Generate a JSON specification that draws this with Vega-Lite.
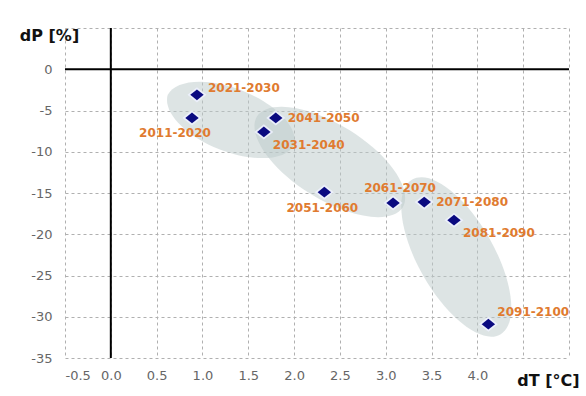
{
  "$schema": "https://vega.github.io/schema/vega-lite/v6.json",
  "autosize": {"type": "none"},
  "padding": {"left": 65, "top": 28, "right": 17, "bottom": 38},
  "width": 504,
  "height": 330,
  "background": "white",
  "config": {
    "view": {"stroke": null},
    "axis": {
      "domain": false,
      "ticks": false,
      "grid": true,
      "gridColor": "#b0b0b0",
      "gridDash": [3, 3],
      "gridWidth": 1,
      "labelFont": "DejaVu Sans",
      "labelFontSize": 13,
      "labelColor": "#666666",
      "titleFont": "DejaVu Sans",
      "titleFontSize": 16,
      "titleFontWeight": "bold",
      "titleColor": "#111111"
    }
  },
  "datasets": {
    "pts": [
      {"period": "2011-2020", "dT": 0.886, "dP": -5.9},
      {"period": "2021-2030", "dT": 0.94, "dP": -3.1},
      {"period": "2031-2040", "dT": 1.67, "dP": -7.6},
      {"period": "2041-2050", "dT": 1.8, "dP": -5.9},
      {"period": "2051-2060", "dT": 2.33, "dP": -14.9},
      {"period": "2061-2070", "dT": 3.08, "dP": -16.2},
      {"period": "2071-2080", "dT": 3.42, "dP": -16.1},
      {"period": "2081-2090", "dT": 3.745, "dP": -18.3},
      {"period": "2091-2100", "dT": 4.12, "dP": -30.9}
    ],
    "ell": [
      {"cluster": "A", "dT": 1.31, "dP": -6.15},
      {"cluster": "B", "dT": 2.39, "dP": -11.24},
      {"cluster": "C", "dT": 3.77, "dP": -22.76}
    ]
  },
  "layer": [
    {
      "data": {"name": "ell"},
      "mark": {"type": "point", "filled": true, "size": 4, "opacity": 0.5, "color": "#bccaca", "strokeWidth": 0},
      "encoding": {
        "x": {
          "field": "dT", "type": "quantitative",
          "scale": {"domain": [-0.5, 5], "nice": false, "zero": false},
          "axis": {
            "values": [-0.5, 0, 0.5, 1, 1.5, 2, 2.5, 3, 3.5, 4, 4.5, 5],
            "format": ".1f",
            "labelExpr": "datum.value > 4.2 ? '' : replace(datum.label, '\u2212', '-')",
            "labelPadding": 11,
            "title": "dT [°C]",
            "titleX": 483,
            "titleY": 27,
            "titleAlign": "center",
            "titleBaseline": "alphabetic"
          }
        },
        "y": {
          "field": "dP", "type": "quantitative",
          "scale": {"domain": [-35, 5], "nice": false, "zero": false},
          "axis": {
            "values": [-35, -30, -25, -20, -15, -10, -5, 0, 5],
            "labelExpr": "datum.value > 0 ? '' : replace(datum.label, '\u2212', '-')",
            "labelPadding": 13,
            "title": "dP [%]",
            "titleAngle": 0,
            "titleX": -16,
            "titleY": 12,
            "titleAlign": "center",
            "titleBaseline": "alphabetic"
          }
        },
        "shape": {
          "field": "cluster", "type": "nominal",
          "scale": {
            "domain": ["A", "B", "C"],
            "range": [
              "M63.2,24.9 A68,33,21.5,0,1,-63.2,-24.9 A68,33,21.5,0,1,63.2,24.9 Z",
              "M72.9,45.6 A86,38,32,0,1,-72.9,-45.6 A86,38,32,0,1,72.9,45.6 Z",
              "M44,77.4 A89,38,60.4,0,1,-44,-77.4 A89,38,60.4,0,1,44,77.4 Z"
            ]
          },
          "legend": null
        }
      }
    },
    {
      "data": {"values": [{}]},
      "mark": {"type": "rule", "color": "#000000", "strokeWidth": 2},
      "encoding": {"x": {"datum": 0, "type": "quantitative"}}
    },
    {
      "data": {"values": [{}]},
      "mark": {"type": "rule", "color": "#000000", "strokeWidth": 2},
      "encoding": {"y": {"datum": 0, "type": "quantitative"}}
    },
    {
      "data": {"name": "pts"},
      "mark": {"type": "point", "filled": true, "shape": "M-1,0L0,-0.8L1,0L0,0.8Z", "size": 360, "color": "#eef2ff", "opacity": 0.85, "strokeWidth": 0},
      "encoding": {
        "x": {"field": "dT", "type": "quantitative"},
        "y": {"field": "dP", "type": "quantitative"}
      }
    },
    {
      "data": {"name": "pts"},
      "mark": {"type": "point", "filled": true, "shape": "M-1,0L0,-0.8L1,0L0,0.8Z", "size": 180, "color": "#0a0a80", "opacity": 1, "strokeWidth": 0},
      "encoding": {
        "x": {"field": "dT", "type": "quantitative"},
        "y": {"field": "dP", "type": "quantitative"}
      }
    },
    {
      "data": {"name": "pts"},
      "transform": [{"filter": {"field": "period", "oneOf": ["2041-2050", "2071-2080"]}}],
      "mark": {"type": "text", "align": "left", "baseline": "middle", "dx": 12, "dy": 0, "font": "DejaVu Sans", "fontSize": 12, "fontWeight": "bold", "color": "#e07b30"},
      "encoding": {
        "x": {"field": "dT", "type": "quantitative"},
        "y": {"field": "dP", "type": "quantitative"},
        "text": {"field": "period"}
      }
    },
    {
      "data": {"name": "pts"},
      "transform": [{"filter": {"field": "period", "oneOf": ["2031-2040", "2081-2090"]}}],
      "mark": {"type": "text", "align": "left", "baseline": "middle", "dx": 9, "dy": 13, "font": "DejaVu Sans", "fontSize": 12, "fontWeight": "bold", "color": "#e07b30"},
      "encoding": {
        "x": {"field": "dT", "type": "quantitative"},
        "y": {"field": "dP", "type": "quantitative"},
        "text": {"field": "period"}
      }
    },
    {
      "data": {"name": "pts"},
      "transform": [{"filter": {"field": "period", "oneOf": ["2021-2030"]}}],
      "mark": {"type": "text", "align": "left", "baseline": "middle", "dx": 11, "dy": -7, "font": "DejaVu Sans", "fontSize": 12, "fontWeight": "bold", "color": "#e07b30"},
      "encoding": {
        "x": {"field": "dT", "type": "quantitative"},
        "y": {"field": "dP", "type": "quantitative"},
        "text": {"field": "period"}
      }
    },
    {
      "data": {"name": "pts"},
      "transform": [{"filter": {"field": "period", "oneOf": ["2091-2100"]}}],
      "mark": {"type": "text", "align": "left", "baseline": "middle", "dx": 9, "dy": -12, "font": "DejaVu Sans", "fontSize": 12, "fontWeight": "bold", "color": "#e07b30"},
      "encoding": {
        "x": {"field": "dT", "type": "quantitative"},
        "y": {"field": "dP", "type": "quantitative"},
        "text": {"field": "period"}
      }
    },
    {
      "data": {"name": "pts"},
      "transform": [{"filter": {"field": "period", "oneOf": ["2051-2060"]}}],
      "mark": {"type": "text", "align": "center", "baseline": "middle", "dx": -2, "dy": 16, "font": "DejaVu Sans", "fontSize": 12, "fontWeight": "bold", "color": "#e07b30"},
      "encoding": {
        "x": {"field": "dT", "type": "quantitative"},
        "y": {"field": "dP", "type": "quantitative"},
        "text": {"field": "period"}
      }
    },
    {
      "data": {"name": "pts"},
      "transform": [{"filter": {"field": "period", "oneOf": ["2011-2020"]}}],
      "mark": {"type": "text", "align": "center", "baseline": "middle", "dx": -17, "dy": 15, "font": "DejaVu Sans", "fontSize": 12, "fontWeight": "bold", "color": "#e07b30"},
      "encoding": {
        "x": {"field": "dT", "type": "quantitative"},
        "y": {"field": "dP", "type": "quantitative"},
        "text": {"field": "period"}
      }
    },
    {
      "data": {"name": "pts"},
      "transform": [{"filter": {"field": "period", "oneOf": ["2061-2070"]}}],
      "mark": {"type": "text", "align": "center", "baseline": "middle", "dx": 7, "dy": -15, "font": "DejaVu Sans", "fontSize": 12, "fontWeight": "bold", "color": "#e07b30"},
      "encoding": {
        "x": {"field": "dT", "type": "quantitative"},
        "y": {"field": "dP", "type": "quantitative"},
        "text": {"field": "period"}
      }
    }
  ]
}
